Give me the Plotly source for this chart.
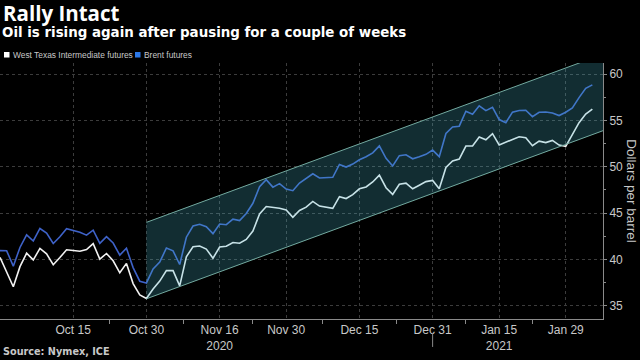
import plotly.graph_objects as go

# ---- data -------------------------------------------------------------
dates = [
    "2020-09-30",
    "2020-10-01", "2020-10-02", "2020-10-05", "2020-10-06", "2020-10-07", "2020-10-08", "2020-10-09",
    "2020-10-12", "2020-10-13", "2020-10-14", "2020-10-15", "2020-10-16", "2020-10-19", "2020-10-20",
    "2020-10-21", "2020-10-22", "2020-10-23", "2020-10-26", "2020-10-27", "2020-10-28", "2020-10-29",
    "2020-10-30",
    "2020-11-02", "2020-11-03", "2020-11-04", "2020-11-05", "2020-11-06", "2020-11-09", "2020-11-10",
    "2020-11-11", "2020-11-12", "2020-11-13", "2020-11-16", "2020-11-17", "2020-11-18", "2020-11-19",
    "2020-11-20", "2020-11-23", "2020-11-24", "2020-11-25", "2020-11-26", "2020-11-27", "2020-11-30",
    "2020-12-01", "2020-12-02", "2020-12-03", "2020-12-04", "2020-12-07", "2020-12-08", "2020-12-09",
    "2020-12-10", "2020-12-11", "2020-12-14", "2020-12-15", "2020-12-16", "2020-12-17", "2020-12-18",
    "2020-12-21", "2020-12-22", "2020-12-23", "2020-12-24", "2020-12-28", "2020-12-29", "2020-12-30",
    "2020-12-31",
    "2021-01-04", "2021-01-05", "2021-01-06", "2021-01-07", "2021-01-08", "2021-01-11", "2021-01-12",
    "2021-01-13", "2021-01-14", "2021-01-15", "2021-01-18", "2021-01-19", "2021-01-20", "2021-01-21",
    "2021-01-22", "2021-01-25", "2021-01-26", "2021-01-27", "2021-01-28", "2021-01-29",
    "2021-02-01", "2021-02-02", "2021-02-03", "2021-02-04",
]

wti = [
    40.22,
    38.72, 37.05, 39.22, 40.67, 39.95, 41.19, 40.60,
    39.43, 40.20, 41.04, 40.96, 40.88, 41.06, 41.70,
    40.03, 40.64, 39.85, 38.56, 39.57, 37.39, 36.17,
    35.79,
    36.81, 37.66, 38.79, 38.79, 37.14, 40.29, 41.36,
    41.45, 41.12, 40.13, 41.34, 41.43, 41.82, 41.74,
    42.15, 43.06, 44.91, 45.71, None, 45.53, 45.34,
    44.55, 45.28, 45.64, 46.26, 45.76, 45.60, 45.52,
    46.78, 46.57, 46.99, 47.62, 47.82, 48.36, 49.10,
    47.74, 47.02, 48.12, 48.23, 47.62, 48.00, 48.40,
    48.52,
    47.62, 49.93, 50.63, 50.83, 52.24, 52.25, 53.21,
    52.91, 53.57, 52.36, None, 52.98, 53.24, 53.13,
    52.27, 52.77, 52.61, 52.85, 52.34, 52.20,
    53.55, 54.76, 55.69, 56.23,
]

brent = [
    40.95,
    40.93, 39.27, 41.29, 42.65, 41.99, 43.34, 42.85,
    41.72, 42.45, 43.32, 43.16, 42.93, 42.62, 43.16,
    41.73, 42.46, 41.77, 40.46, 41.20, 39.12, 37.65,
    37.46,
    38.97, 39.71, 41.23, 40.93, 39.45, 42.40, 43.61,
    43.80, 43.53, 42.78, 43.82, 43.75, 44.34, 44.20,
    44.96, 46.06, 47.86, 48.61, 47.80, 48.18, 47.59,
    47.42, 48.25, 48.71, 49.25, 48.79, 48.84, 48.86,
    50.25, 49.97, 50.29, 50.76, 51.08, 51.50, 52.26,
    50.91, 50.08, 51.20, 51.29, 50.86, 51.09, 51.34,
    51.80,
    51.09, 53.60, 54.30, 54.38, 55.99, 55.66, 56.58,
    56.06, 56.42, 55.10, 54.75, 55.90, 56.08, 56.10,
    55.41, 55.88, 55.91, 55.81, 55.53, 55.88,
    56.35, 57.46, 58.46, 58.84,
]

tick_dates = ["2020-10-15", "2020-10-30", "2020-11-16", "2020-11-30",
              "2020-12-15", "2020-12-31", "2021-01-15", "2021-01-29"]
tick_labels = ["Oct 15", "Oct 30", "Nov 16<br>2020", "Nov 30",
               "Dec 15", "Dec 31", "Jan 15<br>2021", "Jan 29"]
y_ticks = [35, 40, 45, 50, 55, 60]

# trend channel: starts at Oct 30 low, runs past the last trading day
channel_start = "2020-10-30"
channel_lower = [35.75, 54.0]
channel_upper = [44.0, 62.25]

# ---- derived positions (trading-day index) ----------------------------
x = list(range(len(dates)))
tick_idx = [dates.index(d) for d in tick_dates]
minor_idx = [(a + b) / 2 for a, b in zip(tick_idx[:-1], tick_idx[1:])]
ch_x = [dates.index(channel_start), len(dates) + 1]

BG = "#000000"
BRENT_COL = "rgb(62,98,200)"
WTI_COL = "#f2f2f2"
GRID = "#3c3c3c"
AXIS = "#8a8a8a"
TXT = "#c8c8c8"

fig = go.Figure()
fig.add_trace(go.Scatter(x=x, y=brent, mode="lines", name="Brent futures",
                         line=dict(color=BRENT_COL, width=1.6), connectgaps=True,
                         showlegend=False))
fig.add_trace(go.Scatter(x=x, y=wti, mode="lines", name="West Texas Intermediate futures",
                         line=dict(color=WTI_COL, width=1.6), connectgaps=True,
                         showlegend=False))
# channel overlay (drawn on top of the lines)
fig.add_trace(go.Scatter(x=ch_x, y=channel_lower, mode="lines",
                         line=dict(color="rgb(115,170,160)", width=1),
                         showlegend=False, hoverinfo="skip"))
fig.add_trace(go.Scatter(x=ch_x, y=channel_upper, mode="lines", fill="tonexty",
                         fillcolor="rgba(70,180,200,0.25)",
                         line=dict(color="rgb(115,170,160)", width=1),
                         showlegend=False, hoverinfo="skip"))

H_T, H_B = 62.5, 41.0
PH = 360 - H_T - H_B
PW = 603.0


def py(p):
    return (360 - H_B - p) / PH


def px(p):
    return p / PW


fig.update_layout(
    width=640, height=360, autosize=False,
    paper_bgcolor=BG, plot_bgcolor=BG,
    margin=dict(l=0, r=640 - PW, t=H_T, b=H_B, pad=0),
    font=dict(family="Liberation Sans, Arial, sans-serif", color=TXT, size=12),
    showlegend=False,
    xaxis=dict(
        range=[0, 90.6], showline=True, linecolor=AXIS, linewidth=1,
        tickmode="array", tickvals=tick_idx, ticktext=tick_labels,
        ticks="", showgrid=True, gridcolor=GRID, griddash="dot", gridwidth=1,
        zeroline=False, tickfont=dict(size=12, color=TXT),
        minor=dict(tickmode="array", tickvals=minor_idx, ticks="outside",
                   ticklen=4, tickcolor=AXIS, showgrid=False),
        fixedrange=True,
    ),
    yaxis=dict(
        side="right", range=[33.57, 61.2], showline=True, linecolor=AXIS, linewidth=1,
        tickmode="array", tickvals=y_ticks, ticks="outside", ticklen=3, tickcolor=AXIS,
        showgrid=True, gridcolor=GRID, griddash="dot", gridwidth=1, zeroline=False,
        tickfont=dict(size=12, color=TXT),
        minor=dict(dtick=2.5, tick0=0, ticks="outside", ticklen=2, tickcolor=AXIS,
                   showgrid=False),
        fixedrange=True,
    ),
)

# year separator tick
fig.add_shape(type="line", xref="x", yref="paper",
              x0=dates.index("2020-12-31"), x1=dates.index("2020-12-31"),
              y0=py(333), y1=py(347), line=dict(color=AXIS, width=1))

# titles
fig.add_annotation(text="Rally Intact", xref="paper", yref="paper", x=px(1), y=py(12.5),
                   xanchor="left", yanchor="middle", showarrow=False,
                   font=dict(family="Open Sans", size=20.5, color="#ffffff", weight="bold"))
fig.add_annotation(text="Oil is rising again after pausing for a couple of weeks",
                   xref="paper", yref="paper", x=px(0), y=py(32),
                   xanchor="left", yanchor="middle", showarrow=False,
                   font=dict(family="DejaVu Sans", size=13.4, color="#ffffff", weight="bold"))

# legend
fig.add_shape(type="rect", xref="paper", yref="paper", x0=px(4), x1=px(9.5),
              y0=py(57), y1=py(51.5), fillcolor="#ffffff", line=dict(width=0))
fig.add_annotation(text="West Texas Intermediate futures", xref="paper", yref="paper",
                   x=px(11), y=py(54.5), xanchor="left", yanchor="middle", showarrow=False,
                   font=dict(size=8.4, color=TXT))
fig.add_shape(type="rect", xref="paper", yref="paper", x0=px(135), x1=px(140.5),
              y0=py(57), y1=py(51.5), fillcolor="rgb(45,120,230)", line=dict(width=0))
fig.add_annotation(text="Brent futures", xref="paper", yref="paper",
                   x=px(142), y=py(54.5), xanchor="left", yanchor="middle", showarrow=False,
                   font=dict(size=8.4, color=TXT))

# y axis title (reads top to bottom)
fig.add_annotation(text="Dollars per barrel", xref="paper", yref="paper",
                   x=px(632), y=py(191), xanchor="center", yanchor="middle",
                   textangle=90, showarrow=False, font=dict(size=13.5, color=TXT))

# source
fig.add_annotation(text="Source: Nymex, ICE", xref="paper", yref="paper",
                   x=px(1), y=py(352), xanchor="left", yanchor="middle", showarrow=False,
                   font=dict(family="DejaVu Sans", size=9.7, color=TXT, weight="bold"))

fig.write_html("out.html", config={"displayModeBar": False},
               post_script="document.body.style.margin='0';document.body.style.overflow='hidden';")
